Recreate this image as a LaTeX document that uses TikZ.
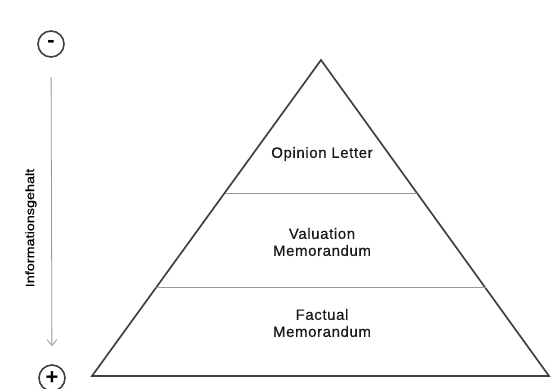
\documentclass[tikz,border=0pt]{standalone}
\usepackage{fontspec}
\setmainfont{Liberation Sans}
\newfontfamily\lblfont[LetterSpace=4,FakeBold=0.6]{Liberation Sans}
\newfontfamily\sidefont[FakeBold=0.5]{Liberation Sans}
\usetikzlibrary{calc,positioning,arrows.meta}

\begin{document}
\begin{tikzpicture}[x=1pt,y=-1pt,
    lbl/.style={font=\fontsize{15}{17}\lblfont,align=center,text=black!90},
    sign/.style={circle,draw=black!75,line width=1.6pt,minimum size=26pt,inner sep=0pt,font=\fontsize{22}{22}\selectfont\bfseries},
    layer/.style={draw=black!40,line width=1pt}]
                                \useasboundingbox (0,0) rectangle (551,388);
                                \coordinate (top) at (321,60);
                                \coordinate (bl) at (92,376);
                                \coordinate (br) at (549,376);

                                \draw[black!75,line width=1.7pt] (top) -- (bl) -- (br) -- cycle;
                                \draw[layer] ($(top)!0.421!(bl)$) -- ($(top)!0.421!(br)$);
                                \draw[layer] ($(top)!0.7215!(bl)$) -- ($(top)!0.7215!(br)$);

                                \node[lbl] (opinion) at (322,154) {Opinion Letter};
                                \node[lbl] (valuation) at (322,242) {Valuation\\Memorandum};
                                \node[lbl] (factual) at (322,323) {Factual\\Memorandum};

                                \node[sign] (minus) at (51,44) {-};
                                \node[sign] (plus) at (52,378) {+};
                                \draw[-{Straight Barb[length=6pt,width=10pt]},black!40,line width=0.8pt,shorten <=19pt,shorten >=18pt] (minus) -- (plus);
                                \node[rotate=90] (info) at (31,228) {\scalebox{1.2}[1]{\fontsize{12}{12}\sidefont Informationsgehalt}};
                            \end{tikzpicture}
\end{document}
